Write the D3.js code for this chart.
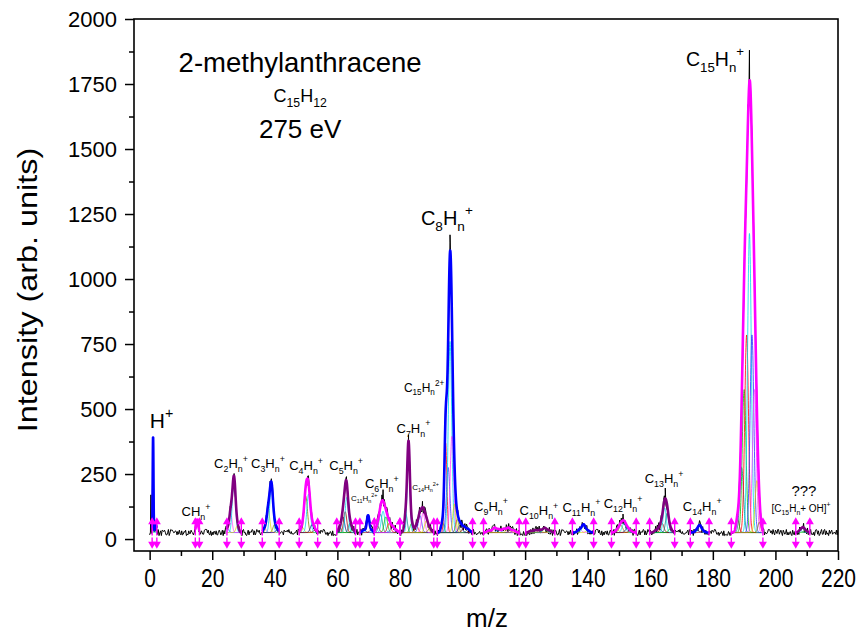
<!DOCTYPE html>
<html lang="en">
<head>
<meta charset="UTF-8">
<title>2-methylanthracene 275 eV</title>
<style>
  body { margin: 0; background: #fff; }
  text { font-family: "Liberation Sans", Arial, sans-serif; fill: #000; }
</style>
</head>
<body>
<script src="https://d3js.org/d3.v7.min.js"></script>
<script>
// ---- data ----
let baseline = 25;

let groupNames = ["H", "CH", "C2", "C3", "C4", "C5", "C11 2+", "C6", "C7 / C14 2+",
  "C8 / C15 2+", "C9", "C10", "C11", "C12", "C13", "C14", "C15", "???"];

// integration windows (m/z), also where the magenta arrows sit
let groupRanges = [
  [0.8, 2.3], [14.6, 15.9], [24.7, 29.3], [36.0, 41.4], [47.8, 53.7], [59.8, 65.8],
  [67.2, 71.8], [71.8, 80.0], [80.0, 90.8], [91.9, 103.2], [106.7, 118.1], [120.2, 129.5],
  [135.1, 141.9], [147.6, 155.5], [159.8, 167.8], [172.8, 178.8], [185.9, 196.0], [206.5, 211.0]
];

// fitted components per group: [centre m/z, height above baseline, sigma]
let groupComponents = [
  [[1.1, 370, 0.12], [2.0, 28, 0.3]],
  [[15.2, 50, 0.35]],
  [[24.9, 15, 0.45], [25.9, 75, 0.45], [26.95, 212, 0.5], [28.0, 25, 0.45]],
  [[36.8, 15, 0.5], [37.9, 85, 0.5], [38.9, 180, 0.5], [39.9, 30, 0.5], [40.8, 10, 0.5]],
  [[48.8, 20, 0.55], [49.9, 140, 0.55], [50.8, 148, 0.55], [51.9, 30, 0.55], [52.8, 10, 0.5]],
  [[60.8, 20, 0.5], [61.8, 60, 0.5], [62.5, 80, 0.5], [63.0, 135, 0.5], [64.0, 35, 0.5], [64.9, 10, 0.5]],
  [[68.5, 10, 0.5], [69.8, 65, 0.4], [70.8, 10, 0.5]],
  [[72.8, 25, 0.55], [73.8, 70, 0.55], [74.6, 82, 0.55], [75.5, 60, 0.55], [76.5, 35, 0.55], [77.6, 20, 0.6], [78.8, 8, 0.6]],
  [[81.9, 70, 0.45], [82.75, 335, 0.42], [83.7, 35, 0.5], [85.3, 25, 0.55], [86.4, 65, 0.55], [87.4, 75, 0.55], [88.4, 45, 0.55], [89.5, 15, 0.55]],
  [[93.6, 40, 0.45], [94.6, 345, 0.4], [95.4, 250, 0.55], [96.0, 735, 0.55], [96.6, 370, 0.55], [97.4, 110, 0.5], [98.3, 50, 0.5], [99.3, 30, 0.55], [100.5, 20, 0.6], [101.8, 12, 0.6]],
  [[108.5, 8, 0.6], [110.2, 18, 0.6], [111.6, 12, 0.6], [113.2, 14, 0.6], [114.7, 18, 0.6], [116.3, 8, 0.6]],
  [[121.8, 6, 0.6], [123.3, 9, 0.6], [124.8, 10, 0.6], [126.3, 17, 0.6], [127.7, 8, 0.6]],
  [[137.4, 12, 0.6], [138.7, 30, 0.55], [140.0, 8, 0.6]],
  [[149.5, 10, 0.6], [150.6, 28, 0.6], [151.6, 35, 0.6], [152.6, 15, 0.6], [153.6, 6, 0.6]],
  [[161.8, 8, 0.55], [162.9, 15, 0.55], [163.8, 35, 0.55], [164.6, 95, 0.5], [165.4, 75, 0.5], [166.4, 15, 0.55]],
  [[174.9, 10, 0.55], [175.8, 25, 0.5], [176.8, 7, 0.55]],
  [[187.9, 50, 0.5], [189.2, 250, 0.6], [190.0, 550, 0.6], [190.8, 760, 0.6], [191.7, 1150, 0.6], [192.5, 760, 0.6], [193.3, 550, 0.6], [194.1, 200, 0.6], [194.9, 40, 0.5]],
  [[207.9, 8, 0.55], [208.8, 17, 0.5], [209.7, 6, 0.55]]
];

// raw-trace maxima that stick out above the fits: [m/z, intensity]
let rawTips = [[0.4, 170], [27.0, 252], [38.9, 232], [50.5, 242], [62.9, 240], [74.6, 190],
  [82.75, 385], [87.2, 145], [94.6, 540], [96.0, 1170], [151.3, 96], [164.8, 196],
  [189.2, 400], [191.7, 1880]];

// hand-entered jitter of the raw trace (4.5 = no offset)
let noiseDigits = "14159265358979323846264338327950288419716939937510" +
  "58209749445923078164062862089986280348253421170679" +
  "82148086513282306647093844609550582231725359408128" +
  "48111745028410270193852110555964462294895493038196" +
  "44288109756659334461284756482337867831652712019091" +
  "45648566923460348610454326648213393607260249141273" +
  "72458700660631558817488152092096282925409171536436" +
  "78925903600113305305488204665213841469519415116094" +
  "33057270365759591953092186117381932611793105118548" +
  "07446237996274956735188575272489122793818301194912";

let xMajorTicks = [0, 20, 40, 60, 80, 100, 120, 140, 160, 180, 200, 220];
let xMinorTicks = [10, 30, 50, 70, 90, 110, 130, 150, 170, 190, 210];
let yMajorTicks = [0, 250, 500, 750, 1000, 1250, 1500, 1750, 2000];
let yMinorTicks = [125, 375, 625, 875, 1125, 1375, 1625, 1875];

// ---- layout ----
let width = 858, height = 633;
let x = d3.scaleLinear().domain([-5, 220]).range([134, 838]);
let y = d3.scaleLinear().domain([-46, 2000]).range([551, 19]);

let envelopeColors = ["#0000ff", "#ff00ff", "#800080"];
// tallest component of a group is drawn cyan, the rest cycle through these
let mainComponentColor = "#00d8e8";
let componentColors = ["#00c000", "#ff0000", "#3030ff", "#ff40ff", "#d8d800", "#808000", "#000080", "#a00000", "#008080"];

// annotations: markup, m/z, intensity (baseline anchor), font size
let annotations = [
  ["2-methylanthracene", 48.1, 1796, 27.5],
  ["C_{15}H_{12}", 48.1, 1681, 18],
  ["275 eV", 48.1, 1542, 26],
  ["H^{+}", 3.8, 427, 21],
  ["CH_{n}^{+}", 14.8, 88, 13],
  ["C_{2}H_{n}^{+}", 26.0, 273, 13],
  ["C_{3}H_{n}^{+}", 37.8, 273, 13],
  ["C_{4}H_{n}^{+}", 50.0, 265, 13],
  ["C_{5}H_{n}^{+}", 62.8, 265, 13],
  ["C_{11}H_{n}^{2+}", 68.6, 146, 8],
  ["C_{6}H_{n}^{+}", 74.2, 196, 13],
  ["C_{7}H_{n}^{+}", 84.3, 408, 13],
  ["C_{14}H_{n}^{2+}", 88.2, 188, 8],
  ["C_{15}H_{n}^{2+}", 87.7, 565, 12],
  ["C_{8}H_{n}^{+}", 95.0, 1208, 20],
  ["C_{9}H_{n}^{+}", 109.1, 108, 13],
  ["C_{10}H_{n}^{+}", 124.4, 92, 13],
  ["C_{11}H_{n}^{+}", 138.0, 104, 13],
  ["C_{12}H_{n}^{+}", 151.3, 119, 13],
  ["C_{13}H_{n}^{+}", 164.4, 215, 13],
  ["C_{14}H_{n}^{+}", 176.6, 108, 13],
  ["???", 209.1, 165, 15],
  ["[C_{15}H_{n}+ OH]^{+}", 208.2, 104, 10],
  ["C_{15}H_{n}^{+}", 180.7, 1819, 19.5]
];

let svg = d3.select("body").append("svg")
  .attr("width", width)
  .attr("height", height)
  .style("display", "block");

function gauss(m, c) {
  let d = m - c[0];
  if (Math.abs(d) > 6 * c[2]) return 0;
  return c[1] * Math.exp(-d * d / (2 * c[2] * c[2]));
}

function model(m) {
  let s = baseline;
  groupComponents.forEach(comps => comps.forEach(c => { s += gauss(m, c); }));
  return s;
}

let plot = svg.append("g");
plot.append("clipPath").attr("id", "clip")
  .append("rect").attr("x", 134).attr("y", 0).attr("width", 704).attr("height", 551);
let inner = plot.append("g").attr("clip-path", "url(#clip)");

let line = d3.line().x(d => x(d[0])).y(d => y(d[1]));

// raw spectrum (black)
let raw = [];
for (let i = 0; i <= 880; i++) {
  let m = i * 0.25;
  let mv = model(m);
  let amp = 2.6 * (1 + Math.sqrt(Math.max(mv - baseline, 0)) / 12);
  raw.push([m, mv + (+noiseDigits[(i * 7) % noiseDigits.length] - 4.5) * amp]);
}
rawTips.forEach(t => raw.push(t));
raw.sort((a, b) => a[0] - b[0]);

inner.append("path")
  .attr("d", line(raw))
  .attr("fill", "none")
  .attr("stroke", "#000")
  .attr("stroke-width", 1)
  .attr("stroke-linejoin", "round");

// thin fit components
groupComponents.forEach((comps, gi) => {
  let lo = groupRanges[gi][0], hi = groupRanges[gi][1];
  let xs = d3.range(lo, hi + 0.001, 0.04);
  let tallest = d3.maxIndex(comps, c => c[1]);
  let k = gi;
  comps.forEach((c, ci) => {
    let col = ci === tallest ? mainComponentColor : componentColors[(k++) % componentColors.length];
    inner.append("path")
      .attr("d", line(xs.map(m => [m, baseline + gauss(m, c)])))
      .attr("fill", "none")
      .attr("stroke", col)
      .attr("stroke-width", 0.8);
  });
});

// thick envelopes
groupComponents.forEach((comps, gi) => {
  let lo = groupRanges[gi][0], hi = groupRanges[gi][1];
  let xs = d3.range(lo, hi + 0.001, 0.04);
  let pts = xs.map(m => [m, baseline + d3.sum(comps, c => gauss(m, c))]);
  inner.append("path")
    .attr("d", line(pts))
    .attr("fill", "none")
    .attr("stroke", envelopeColors[gi % 3])
    .attr("stroke-width", 2.6)
    .attr("stroke-linejoin", "round");
});

// magenta window arrows
let arrowG = svg.append("g").attr("fill", "#ff00ff").attr("stroke", "#ff00ff");
groupRanges.forEach(r => r.forEach(m => {
  let px = x(m);
  let upTip = y(84), upTail = y(14);
  let dnTip = y(-37), dnTail = y(6);
  arrowG.append("line").attr("x1", px).attr("x2", px).attr("y1", upTail).attr("y2", upTip + 5).attr("stroke-width", 1.4);
  arrowG.append("path").attr("stroke", "none")
    .attr("d", `M${px - 4},${upTip + 7}L${px},${upTip}L${px + 4},${upTip + 7}Z`);
  arrowG.append("line").attr("x1", px).attr("x2", px).attr("y1", dnTail).attr("y2", dnTip - 5).attr("stroke-width", 1.4);
  arrowG.append("path").attr("stroke", "none")
    .attr("d", `M${px - 4},${dnTip - 7}L${px},${dnTip}L${px + 4},${dnTip - 7}Z`);
}));

// axes
function styleAxis(g) {
  g.select(".domain").remove();
  g.selectAll("line").attr("stroke", "#000").attr("stroke-width", 1.5);
}

svg.append("g").attr("transform", "translate(0,551)")
  .call(d3.axisBottom(x).tickValues(xMajorTicks).tickSize(9).tickPadding(6).tickFormat(d3.format("d")))
  .call(styleAxis)
  .selectAll("text")
  .attr("font-size", 21)
  .attr("font-family", "Liberation Sans, Arial, sans-serif")
  .attr("transform", "scale(1,1.22)");
svg.append("g").attr("transform", "translate(0,551)")
  .call(d3.axisBottom(x).tickValues(xMinorTicks).tickSize(5).tickFormat(""))
  .call(styleAxis);
svg.append("g").attr("transform", "translate(134,0)")
  .call(d3.axisLeft(y).tickValues(yMajorTicks).tickSize(9).tickPadding(8).tickFormat(d3.format("d")))
  .call(styleAxis)
  .selectAll("text").attr("font-size", 22).attr("font-family", "Liberation Sans, Arial, sans-serif");
svg.append("g").attr("transform", "translate(134,0)")
  .call(d3.axisLeft(y).tickValues(yMinorTicks).tickSize(5).tickFormat(""))
  .call(styleAxis);

// frame
svg.append("rect")
  .attr("x", 134).attr("y", 19).attr("width", 704).attr("height", 532)
  .attr("fill", "none").attr("stroke", "#000").attr("stroke-width", 1.6);

// axis titles
svg.append("text")
  .attr("transform", "translate(37,290) rotate(-90) scale(1.2,1)")
  .attr("text-anchor", "middle")
  .attr("font-size", 27)
  .text("Intensity (arb. units)");
svg.append("text")
  .attr("x", 487).attr("y", 627)
  .attr("text-anchor", "middle")
  .attr("font-size", 26)
  .text("m/z");

// labels with sub/superscripts
function richText(sel, markup, size) {
  let parts = markup.match(/_\{[^}]*\}|\^\{[^}]*\}|[^_^]+/g);
  let cur = 0;
  parts.forEach(p => {
    let kind = "n", txt = p;
    if (p.startsWith("_{")) { kind = "sub"; txt = p.slice(2, -1); }
    else if (p.startsWith("^{")) { kind = "sup"; txt = p.slice(2, -1); }
    let off = kind === "sub" ? size * 0.28 : kind === "sup" ? -size * 0.5 : 0;
    sel.append("tspan")
      .attr("dy", off - cur)
      .attr("font-size", kind === "n" ? size : size * 0.68)
      .text(txt);
    cur = off;
  });
}

annotations.forEach(a => {
  let t = svg.append("text")
    .attr("x", x(a[1]))
    .attr("y", y(a[2]))
    .attr("text-anchor", "middle")
    .attr("font-size", a[3]);
  richText(t, a[0], a[3]);
});
</script>
</body>
</html>
